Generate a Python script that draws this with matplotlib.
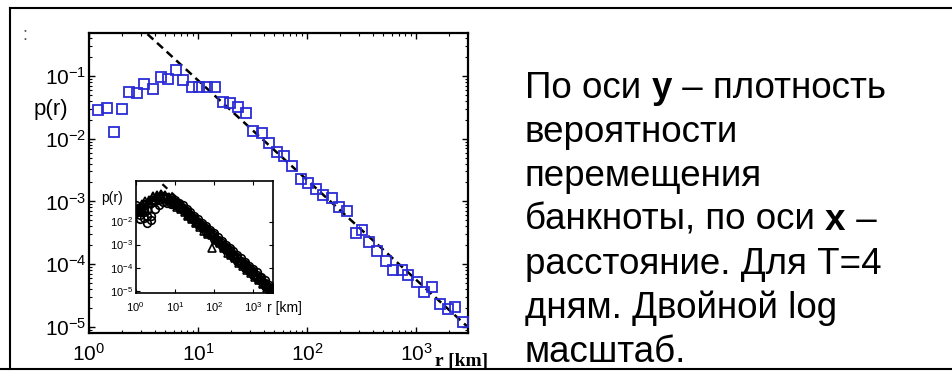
import numpy as np
import matplotlib
matplotlib.use("Agg")
import matplotlib.pyplot as plt
from matplotlib.lines import Line2D

# main panel: distance r [km] and probability density p(r), T = 4 days
r_main = [1.20, 1.45, 1.70, 2.01, 2.34, 2.77, 3.22, 3.84, 4.58, 5.34, 6.28, 7.24,
          8.81, 10.3, 12.0, 14.3, 16.9, 19.7, 23.1, 27.6, 32.2, 38.4, 44.5, 52.7,
          61.9, 72.4, 87.5, 103, 121, 141, 169, 198, 231, 281, 318, 373,
          442, 531, 619, 739, 850, 1015, 1184, 1393, 1661, 1954, 2279, 2716]
p_main = [0.0287, 0.0306, 0.0129, 0.0298, 0.0562, 0.0530, 0.0745, 0.0613, 0.0953, 0.0896,
          0.1247, 0.0863, 0.0660, 0.0660, 0.0675, 0.0660, 0.0389, 0.0375, 0.0324, 0.0254,
          0.0134, 0.0125, 0.00864, 0.00621, 0.00530, 0.00367, 0.00225, 0.00199, 0.00156,
          0.00126, 0.00112, 0.000822, 0.000711, 0.000310, 0.000346, 0.000228, 0.000162,
          0.000112, 8.14e-5, 8.05e-5, 6.70e-5, 5.19e-5, 3.63e-5, 4.31e-5, 2.31e-5,
          1.90e-5, 2.09e-5, 1.21e-5]

# power law fit p ~ A * r^-(1+beta)
fit_exp = -1.59
fit_amp = 3.32
fit_r = [1.0, 3000.0]

# inset: several data sets, log10 values
inset_logr_a = [0.0, 0.1, 0.2, 0.3, 0.4, 0.5, 0.6, 0.7, 0.8, 0.9, 1.0, 1.1, 1.2, 1.3,
                1.4, 1.5, 1.6, 1.7, 1.8, 1.9, 2.0, 2.1, 2.2, 2.3, 2.4, 2.5, 2.6, 2.7,
                2.8, 2.9, 3.0, 3.1, 3.2, 3.3, 3.4, 3.5]
inset_logr_b = [0.05, 0.15, 0.25, 0.35, 0.45, 0.55, 0.65, 0.75, 0.85, 0.95, 1.05, 1.15,
                1.25, 1.35, 1.45, 1.55, 1.65, 1.75, 1.85, 1.95, 2.05, 2.15, 2.25, 2.35,
                2.45, 2.55, 2.65, 2.75, 2.85, 2.95, 3.05, 3.15, 3.25, 3.35, 3.45]
circles_1 = [-1.45, -1.55, -1.85, -1.50, -1.20, -1.05, -0.95, -0.90, -1.00, -1.10, -1.15, -1.25,
             -1.40, -1.55, -1.70, -1.85, -2.00, -2.15, -2.30, -2.45, -2.60, -2.80, -2.95, -3.10,
             -3.25, -3.40, -3.55, -3.70, -3.85, -4.00, -4.15, -4.30, -4.45, -4.65, -4.85, -4.95]
circles_2 = [-1.30, -1.70, -1.60, -2.05, -1.75, -1.45, -1.30, -1.15, -1.20, -1.25, -1.30, -1.35,
             -1.50, -1.65, -1.80, -1.95, -2.10, -2.25, -2.45, -2.55, -2.75, -2.90, -3.05, -3.25,
             -3.40, -3.55, -3.70, -3.85, -4.00, -4.15, -4.30, -4.45, -4.60, -4.80, -4.95, -5.05]
circles_3 = [-1.60, -1.90, -1.45, -1.75, -1.95, -1.10, -1.05, -1.00, -0.95, -1.00, -1.05, -1.20,
             -1.30, -1.45, -1.60, -1.75, -1.90, -2.05, -2.20, -2.35, -2.50, -2.65, -2.85, -3.00,
             -3.15, -3.30, -3.45, -3.60, -3.75, -3.95, -4.05, -4.20, -4.40, -4.55, -4.75, -4.90]
triangles_1 = [-1.40, -1.35, -1.25, -1.05, -0.95, -0.85, -0.80, -0.85, -0.95, -1.05, -1.15, -1.30,
               -1.45, -1.60, -1.75, -1.90, -2.05, -2.20, -2.35, -2.50, -2.65, -2.85, -3.00, -3.15,
               -3.30, -3.45, -3.60, -3.75, -3.90, -4.05, -4.20, -4.40, -4.55, -4.70, -4.90]
triangles_2 = [-1.60, -1.50, -1.40, -1.20, -1.05, -0.95, -0.90, -0.95, -1.05, -1.20, -1.35, -1.45,
               -1.60, -1.75, -1.90, -2.05, -2.25, -2.40, -2.55, -3.15, -2.80, -2.95, -3.15, -3.35,
               -3.45, -3.60, -3.80, -3.95, -4.10, -4.25, -4.40, -4.55, -4.70, -4.90, -5.05]
triangles_3 = [-1.50, -1.25, -1.10, -1.15, -0.90, -0.90, -0.85, -0.90, -1.00, -1.10, -1.25, -1.40,
               -1.50, -1.70, -1.85, -2.00, -2.15, -2.30, -2.50, -2.60, -2.75, -2.90, -3.10, -3.25,
               -3.40, -3.50, -3.70, -3.85, -4.00, -4.15, -4.30, -4.50, -4.65, -4.80, -4.95]
inset_fit_amp = 5.1

# slide text, (text, bold) runs per line
slide_lines = [
    [("По оси ", False), ("у", True), (" – плотность", False)],
    [("вероятности", False)],
    [("перемещения", False)],
    [("банкноты, по оси ", False), ("х", True), (" –", False)],
    [("расстояние. Для Т=4", False)],
    [("дням. Двойной log", False)],
    [("масштаб.", False)],
]

W, H = 953, 371
plt.rcParams["font.family"] = ["Liberation Sans", "DejaVu Sans"]
plt.rcParams["mathtext.fontset"] = "custom"
plt.rcParams["mathtext.rm"] = "Liberation Sans"
plt.rcParams["mathtext.it"] = "Liberation Sans:italic"
plt.rcParams["mathtext.bf"] = "Liberation Sans:bold"


def px(x, y):
    # pixel coords (from top-left) to figure fraction
    return x / W, 1 - y / H


fig = plt.figure(figsize=(W / 100, H / 100), dpi=100)

# ---- main axes
ax = fig.add_axes([89 / W, 1 - 333 / H, (468 - 89) / W, (333 - 33) / H])
r_line = np.array(fit_r)
ax.plot(r_line, fit_amp * r_line ** fit_exp, color="black", lw=1.8,
        dashes=(3.2, 2.0), zorder=2)
ax.plot(r_main, p_main, ls="none", marker="s", ms=7, mfc="none",
        mec="#2b2bd6", mew=1.3, zorder=3)
ax.set_xscale("log")
ax.set_yscale("log")
ax.set_xlim(1, 3000)
ax.set_ylim(10 ** -5.1, 10 ** -0.314)
ax.set_xticks([1, 10, 100, 1000])
ax.set_yticks([1e-5, 1e-4, 1e-3, 1e-2, 1e-1])
ax.tick_params(which="both", direction="in", top=True, right=True, labelsize=15)
ax.tick_params(which="major", length=4, width=1)
ax.tick_params(which="minor", length=2, width=0.8)
ax.tick_params(axis="x", pad=7)
ax.tick_params(axis="y", pad=2)
for s in ax.spines.values():
    s.set_linewidth(1.6)

fig.text(*px(51, 110), "p(r)", fontsize=16, ha="center", va="center")
fig.text(*px(435, 366), "r [km]", fontsize=14, fontweight="bold",
         family="Liberation Serif", ha="left", va="baseline")
fig.text(*px(25, 36), ":", fontsize=13, color="#555555", ha="center", va="center")

# ---- inset
axi = fig.add_axes([135.7 / W, 1 - 293 / H, (272.7 - 135.7) / W, (293 - 180.7) / H])
axi.plot(r_line, inset_fit_amp * r_line ** fit_exp, color="black", lw=1.6,
         dashes=(3, 2.5), zorder=1)
ra = 10 ** np.array(inset_logr_a)
rb = 10 ** np.array(inset_logr_b)
for vals in (circles_1, circles_2, circles_3):
    axi.plot(ra, 10 ** np.array(vals), ls="none", marker="o", ms=5.5, mfc="none",
             mec="black", mew=1.2, zorder=3)
for vals in (triangles_1, triangles_2, triangles_3):
    axi.plot(rb, 10 ** np.array(vals), ls="none", marker="^", ms=5.5, mfc="none",
             mec="black", mew=1.2, zorder=3)
axi.set_xscale("log")
axi.set_yscale("log")
axi.set_xlim(1, 3200)
axi.set_ylim(10 ** -5.1, 10 ** -0.23)
axi.set_xticks([1, 10, 100, 1000])
axi.set_yticks([1e-5, 1e-4, 1e-3, 1e-2])
axi.tick_params(which="both", direction="in", top=True, right=True, labelsize=8)
axi.tick_params(which="major", length=3, width=0.8)
axi.tick_params(which="minor", length=0)
axi.tick_params(axis="x", pad=5)
axi.tick_params(axis="y", pad=2)
for s in axi.spines.values():
    s.set_linewidth(1.2)
axi.set_facecolor("white")
fig.text(*px(112, 198), "p(r)", fontsize=10, ha="center", va="center")
fig.text(*px(267, 308), "r [km]", fontsize=10, ha="left", va="center")

# ---- slide text on the right
renderer = fig.canvas.get_renderer()
fs = 26.5


def run_width(s, bold):
    t = fig.text(0, 0, s + "|", fontsize=fs, fontweight="bold" if bold else "normal")
    w = t.get_window_extent(renderer=renderer).width
    t.remove()
    t = fig.text(0, 0, "|", fontsize=fs, fontweight="bold" if bold else "normal")
    w -= t.get_window_extent(renderer=renderer).width
    t.remove()
    return w


y0, step = 98, 44
for i, runs in enumerate(slide_lines):
    x = 525
    for s, bold in runs:
        fig.text(*px(x, y0 + i * step), s, fontsize=fs,
                 fontweight="bold" if bold else "normal", ha="left", va="baseline")
        x += run_width(s, bold)

# ---- slide frame
frame = dict(color="black", lw=1.5, zorder=20)
fig.add_artist(Line2D([10 / W, 1], [1 - 8 / H, 1 - 8 / H], transform=fig.transFigure, **frame))
fig.add_artist(Line2D([10 / W, 10 / W], [1 - 8 / H, 1 - 369 / H], transform=fig.transFigure, **frame))
fig.add_artist(Line2D([0, 1], [1 - 369 / H, 1 - 369 / H], transform=fig.transFigure, **frame))

fig.savefig("out.png", dpi=100)
